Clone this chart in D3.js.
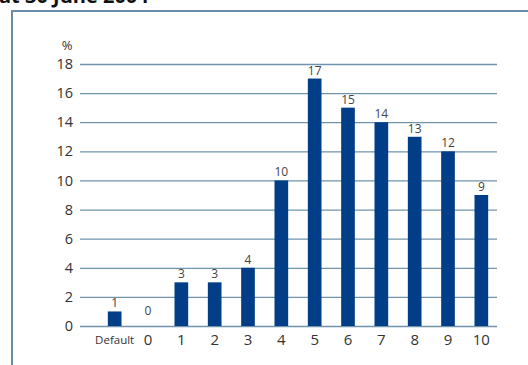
<!DOCTYPE html>
<html>
<head>
<meta charset="utf-8">
<script src="https://cdn.jsdelivr.net/npm/d3@7"></script>
<style>
  html, body { margin: 0; padding: 0; background: #fff; }
  svg { display: block; }
</style>
</head>
<body>
<svg id="chart" width="528" height="365"></svg>
<script>
// Distribution by grade
const categories = ["Default", "0", "1", "2", "3", "4", "5", "6", "7", "8", "9", "10"];
const shares = [1, 0, 3, 3, 4, 10, 17, 15, 14, 13, 12, 9];
const yTicks = [0, 2, 4, 6, 8, 10, 12, 14, 16, 18];
const titleText = "at 30 June 2004";
const unitLabel = "%";

const svg = d3.select("#chart");
const font = "'Open Sans', 'Noto Sans', sans-serif";
const frameColor = "#6a8ca5";
const gridColor = "#7094ac";
const barColor = "#023e87";

// Heading (runs off the top edge)
svg.append("text")
  .attr("x", -1).attr("y", 2.5)
  .attr("font-family", font)
  .attr("font-weight", "bold")
  .attr("font-size", 20)
  .attr("fill", "#111")
  .text(titleText);

// Frame: top and left rules
svg.append("line")
  .attr("x1", 12).attr("x2", 528).attr("y1", 11).attr("y2", 11)
  .attr("stroke", frameColor).attr("stroke-width", 2);
svg.append("line")
  .attr("x1", 12).attr("x2", 12).attr("y1", 10).attr("y2", 365)
  .attr("stroke", frameColor).attr("stroke-width", 2);

const x = d3.scaleBand().domain(categories).range([98, 498]).paddingInner(0.59).paddingOuter(0.295);
const y = d3.scaleLinear().domain([0, 18]).range([326, 64]);

// Gridlines and y labels
const yAxis = d3.axisLeft(y).tickValues(yTicks).tickSize(-417).tickPadding(7);
const gy = svg.append("g").attr("transform", "translate(80,0)").call(yAxis);
gy.select(".domain").remove();
gy.selectAll(".tick line").attr("stroke", gridColor).attr("stroke-width", 1.3);
gy.selectAll(".tick text")
  .attr("font-family", font).attr("font-size", 14.5).attr("fill", "#333");

svg.append("text")
  .attr("x", 67).attr("y", 50)
  .attr("text-anchor", "middle")
  .attr("font-family", font).attr("font-size", 13).attr("fill", "#333")
  .text(unitLabel);

// Bars
svg.append("g").selectAll("rect")
  .data(shares)
  .join("rect")
  .attr("x", (d, i) => x(categories[i]))
  .attr("width", x.bandwidth())
  .attr("y", d => y(d))
  .attr("height", d => y(0) - y(d))
  .attr("fill", barColor);

// Value labels
svg.append("g").selectAll("text")
  .data(shares)
  .join("text")
  .attr("x", (d, i) => x(categories[i]) + x.bandwidth() / 2)
  .attr("y", d => Math.min(y(d), y(0) - 7) - 4)
  .attr("text-anchor", "middle")
  .attr("font-family", font).attr("font-size", 12).attr("fill", "#444")
  .text(d => d);

// Category labels
const xAxis = d3.axisBottom(x).tickSize(0).tickPadding(8);
const gx = svg.append("g").attr("transform", "translate(0,326)").call(xAxis);
gx.select(".domain").remove();
gx.selectAll(".tick text")
  .attr("font-family", font)
  .attr("font-size", (d) => d === "Default" ? 11.5 : 15)
  .attr("dy", (d) => d === "Default" ? "0.85em" : "0.71em")
  .attr("fill", "#333");
</script>
</body>
</html>
